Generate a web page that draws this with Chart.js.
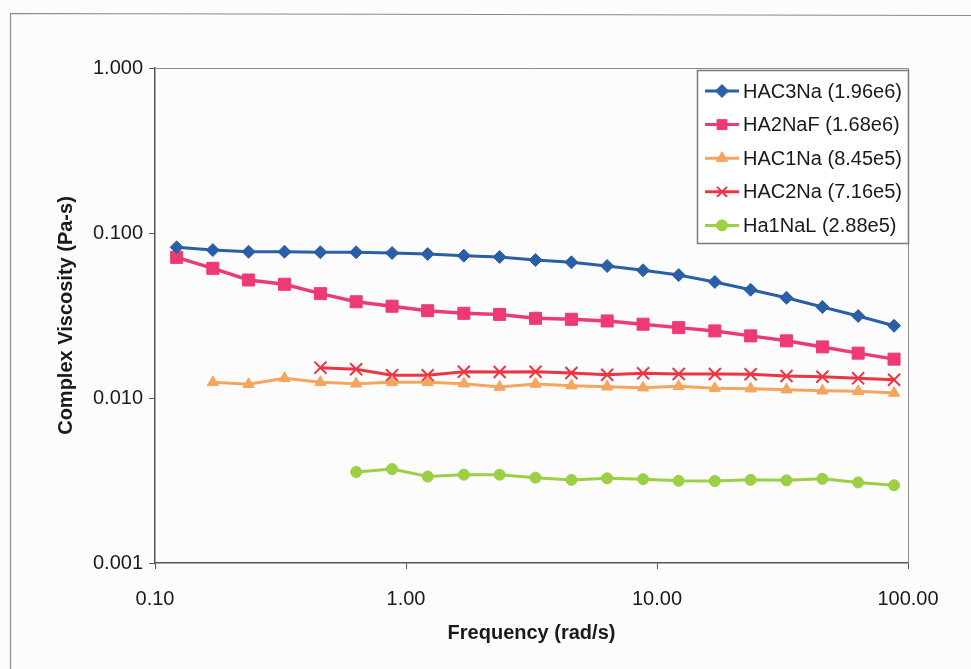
<!DOCTYPE html>
<html>
<head>
<meta charset="utf-8">
<script src="https://cdn.jsdelivr.net/npm/chart.js@4"></script>
<style>
  html, body { margin: 0; padding: 0; background: #fcfcfc; }
  #wrap { width: 971px; height: 669px; position: relative; }
</style>
</head>
<body>
<div id="wrap"><canvas id="viscChart" width="971" height="669"></canvas></div>
<script>
// frequencies (rad/s) shared by all series
const frequency = [0.122, 0.170, 0.236, 0.328, 0.456, 0.633, 0.880, 1.22, 1.70, 2.36, 3.28,
                   4.56, 6.33, 8.80, 12.2, 17.0, 23.6, 32.8, 45.6, 63.3, 88.0];

// complex viscosity (Pa-s), null where the sample was not measured
const hac3Na = [0.0819, 0.0788, 0.0770, 0.0770, 0.0764, 0.0764, 0.0756, 0.0746, 0.0729, 0.0715, 0.0686,
                0.0664, 0.0631, 0.0594, 0.0556, 0.0505, 0.0453, 0.0405, 0.0356, 0.0314, 0.0274];
const ha2NaF = [0.0712, 0.0611, 0.0519, 0.0489, 0.0429, 0.0383, 0.0360, 0.0338, 0.0326, 0.0321, 0.0304,
                0.0300, 0.0293, 0.0280, 0.0267, 0.0255, 0.0238, 0.0222, 0.0204, 0.0187, 0.0172];
const hac1Na = [null, 0.01245, 0.01211, 0.01316, 0.01245, 0.01221, 0.01245, 0.01245, 0.01221, 0.01166, 0.01216,
                0.01187, 0.01171, 0.01155, 0.01177, 0.01145, 0.01139, 0.01123, 0.01107, 0.01098, 0.01072];
const hac2Na = [null, null, null, null, 0.01527, 0.01493, 0.01373, 0.01373, 0.01443, 0.01437, 0.01443,
                0.01417, 0.01384, 0.01411, 0.01398, 0.01398, 0.01394, 0.01360, 0.01346, 0.01316, 0.01291];
const ha1NaL = [null, null, null, null, null, 0.00356, 0.00371, 0.00334, 0.00343, 0.00343, 0.00329,
                0.00319, 0.00326, 0.00322, 0.00315, 0.00314, 0.00319, 0.00317, 0.00324, 0.00308, 0.00296];

const seriesLabels = ['HAC3Na (1.96e6)', 'HA2NaF (1.68e6)', 'HAC1Na (8.45e5)', 'HAC2Na (7.16e5)', 'Ha1NaL (2.88e5)'];
const xTicks = [0.1, 1, 10, 100];
const yTicks = [0.001, 0.01, 0.1, 1];

const FONT = "'Liberation Sans', Arial, sans-serif";

const toPoints = (vals) => frequency.map((f, i) => ({ x: f, y: vals[i] })).filter(p => p.y !== null);

const styles = [
    { color: '#2a5ea6', style: 'rectRot', radius: 6.5, line: 3 },
    { color: '#ee3a73', style: 'rect', radius: 8.5, line: 3.5 },
    { color: '#f5a55e', style: 'triangle', radius: 6.5, line: 3 },
    { color: '#ee3443', style: 'crossRot', radius: 8.5, line: 3 },
    { color: '#9ccf45', style: 'circle', radius: 5.5, line: 3 }
];

const allSeries = [hac3Na, ha2NaF, hac1Na, hac2Na, ha1NaL];

const datasets = allSeries.map((vals, i) => ({
    label: seriesLabels[i],
    data: toPoints(vals),
    borderColor: styles[i].color,
    backgroundColor: styles[i].color,
    borderWidth: styles[i].line,
    pointStyle: styles[i].style,
    pointRadius: styles[i].radius,
    pointBorderWidth: styles[i].style === 'crossRot' ? 2 : 1,
    pointBorderColor: styles[i].color,
    pointBackgroundColor: styles[i].color,
    tension: 0
}));

// outer frame, plot box and legend box drawn around the chart
const framePlugin = {
    id: 'frame',
    beforeDraw(chart) {
        const c = chart.ctx;
        c.save();
        c.fillStyle = '#fcfcfc';
        c.fillRect(0, 0, chart.width, chart.height);
        c.strokeStyle = '#8a8a8a';
        c.lineWidth = 1.2;
        c.beginPath();
        c.moveTo(10.5, 669);
        c.lineTo(10.5, 13.5);
        c.lineTo(971, 15.5);
        c.stroke();
        c.restore();
    },
    afterDatasetsDraw(chart) {
        const c = chart.ctx;
        const a = chart.chartArea;
        c.save();
        c.strokeStyle = '#8c8c8c';
        c.lineWidth = 1;
        c.beginPath();
        c.moveTo(a.left, a.top + 0.5);
        c.lineTo(a.right + 0.5, a.top + 0.5);
        c.lineTo(a.right + 0.5, a.bottom);
        c.stroke();

        // legend box
        const bx = 697, by = 70, bw = 211, bh = 173;
        c.fillStyle = '#ffffff';
        c.fillRect(bx, by, bw, bh);
        c.strokeStyle = '#7a7a7a';
        c.lineWidth = 1.5;
        c.strokeRect(bx + 0.5, by + 0.5, bw, bh);

        c.font = '20px ' + FONT;
        c.textBaseline = 'middle';
        c.textAlign = 'left';
        chart.data.datasets.forEach((ds, i) => {
            const y = 91 + i * 33.6;
            c.strokeStyle = ds.borderColor;
            c.lineWidth = 3;
            c.beginPath();
            c.moveTo(705, y);
            c.lineTo(739, y);
            c.stroke();
            c.fillStyle = ds.backgroundColor;
            c.lineWidth = ds.pointBorderWidth;
            if (Chart.helpers && Chart.helpers.drawPoint) {
                Chart.helpers.drawPoint(c, { pointStyle: ds.pointStyle, radius: Math.min(ds.pointRadius, 7), rotation: 0, borderWidth: ds.pointBorderWidth }, 722, y);
            }
            c.fillStyle = '#1a1a1a';
            c.fillText(ds.label, 743, y + 1);
        });
        c.restore();
    }
};

const ctx = document.getElementById('viscChart').getContext('2d');
const viscChart = new Chart(ctx, {
    type: 'line',
    data: { datasets: datasets },
    options: {
        responsive: false,
        animation: false,
        layout: { padding: { left: 0, top: 68, right: 63, bottom: 0 } },
        plugins: {
            legend: { display: false },
            tooltip: { enabled: false }
        },
        scales: {
            x: {
                type: 'logarithmic',
                min: 0.1,
                max: 100,
                afterBuildTicks: (axis) => { axis.ticks = xTicks.map(v => ({ value: v })); },
                afterFit: (axis) => { axis.height = 106; },
                border: { display: true, color: '#555', width: 1.5 },
                grid: { display: true, drawOnChartArea: false, drawTicks: true, tickLength: 6, color: '#555' },
                ticks: {
                    color: '#1a1a1a',
                    font: { family: FONT, size: 20 },
                    padding: 18,
                    maxRotation: 0,
                    callback: (v) => Number(v).toFixed(2)
                },
                title: {
                    display: true,
                    text: 'Frequency (rad/s)',
                    color: '#1a1a1a',
                    font: { family: FONT, size: 20, weight: 'bold' },
                    padding: { top: 4, bottom: 24 }
                }
            },
            y: {
                type: 'logarithmic',
                min: 0.001,
                max: 1,
                afterBuildTicks: (axis) => { axis.ticks = yTicks.map(v => ({ value: v })); },
                afterFit: (axis) => { axis.width = 155; },
                border: { display: true, color: '#555', width: 1.5 },
                grid: { display: true, drawOnChartArea: false, drawTicks: true, tickLength: 6, color: '#555' },
                ticks: {
                    color: '#1a1a1a',
                    font: { family: FONT, size: 20 },
                    padding: 6,
                    callback: (v) => Number(v).toFixed(3)
                },
                title: {
                    display: true,
                    text: 'Complex Viscosity (Pa-s)',
                    color: '#1a1a1a',
                    font: { family: FONT, size: 20, weight: 'bold' },
                    padding: { top: 54, bottom: 4 }
                }
            }
        }
    },
    plugins: [framePlugin]
});
</script>
</body>
</html>
